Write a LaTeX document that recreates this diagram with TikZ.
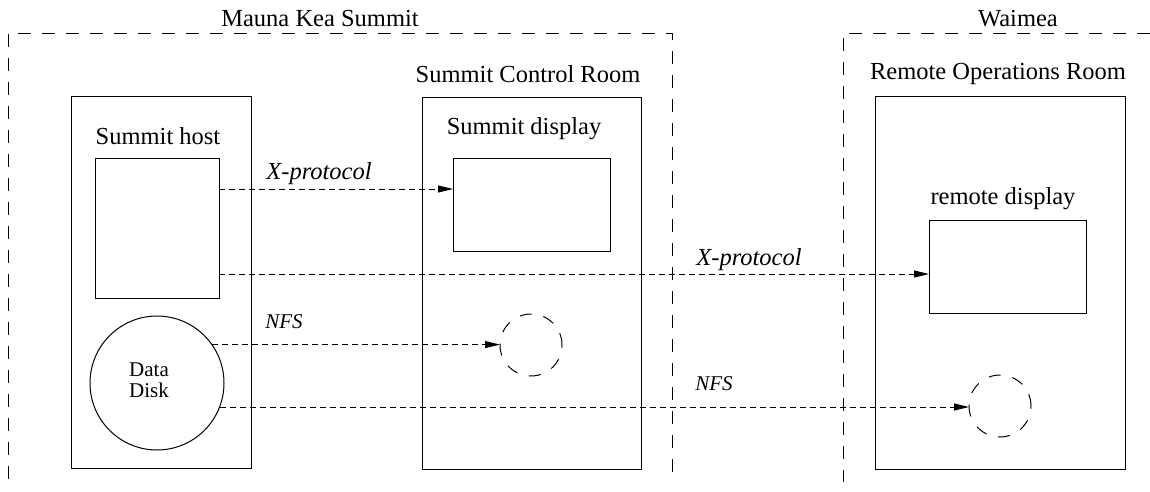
\documentclass[tikz,border=0pt]{standalone}
\usepackage{fontspec}
\setmainfont{Liberation Serif}
\usetikzlibrary{arrows.meta,calc}

\tikzset{
  big/.style={font=\fontsize{24.5}{28}\selectfont, inner sep=0pt},
  small/.style={font=\fontsize{21}{21}\selectfont, inner sep=0pt},
  proto/.style={font=\fontsize{24.5}{28}\selectfont\itshape, inner sep=0pt},
  protosmall/.style={font=\fontsize{21}{24}\selectfont\itshape, inner sep=0pt},
  box/.style={draw, line width=1pt, inner sep=0pt, outer sep=0pt},
  region/.style={draw, line width=1pt, dash pattern=on 13pt off 11pt},
  ghost/.style={draw, circle, line width=1pt, dash pattern=on 12pt off 12pt,
                minimum size=62pt, inner sep=0pt, outer sep=0pt},
  link/.style={draw, line width=1pt, dash pattern=on 6pt off 4pt,
               -{Triangle[length=15pt,width=7pt]}},
}

\begin{document}
\begin{tikzpicture}[x=1pt,y=-1pt]
\useasboundingbox (0,0) rectangle (1150,491);

% site regions
\node[big] (summitlbl) at (320,19) {Mauna Kea Summit};
\node[big] (waimealbl) at (1018,19) {Waimea};
\coordinate (mkbl) at (8,479);
\coordinate (mktl) at (8,33);
\coordinate (mktr) at (672,33);
\coordinate (mkbr) at (672,482);
\coordinate (wtr) at (1150,33);
\coordinate (wtl) at (843,33);
\coordinate (wbl) at (843,482);
\draw[region] (mkbl) -- (mktl) -- (mktr) -- (mkbr);
\draw[region] (wtr) -- (wtl) -- (wbl);

% summit host
\node[box, minimum width=180pt, minimum height=372pt] (host) at (161,282) {};
\node[big] (hostlbl) at (158,136) {Summit host};
\node[box, minimum width=124pt, minimum height=140pt] (screen) at (157,228) {};
\node[draw, circle, line width=1pt, minimum size=134pt, inner sep=0pt, outer sep=0pt] (disk) at (157,383) {};
\node[small, align=center] (disklbl) at (149,380) {Data\\Disk};

% summit control room
\node[big] (ctrllbl) at (528,74) {Summit Control Room};
\node[box, minimum width=219pt, minimum height=372pt] (ctrl) at (531.5,283) {};
\node[big] (displbl) at (524,129) {Summit display};
\node[box, minimum width=157pt, minimum height=93pt] (disp) at (531.5,204.5) {};
\node[ghost] (mnt1) at (531,345) {};

% remote operations room
\node[big] (remlbl) at (998,74) {Remote Operations Room};
\node[box, minimum width=250pt, minimum height=373pt] (rem) at (1000,282.5) {};
\node[big] (rdisplbl) at (1003,199) {remote display};
\node[box, minimum width=157pt, minimum height=93pt] (rdisp) at (1007.5,266.5) {};
\node[ghost] (mnt2) at (1000,406) {};

% connections
\draw[link] (screen.east |- 0,189) -- (disp.west |- 0,189);
\draw[link] (screen.east |- 0,274) -- (rdisp.west |- 0,274);
\draw[link] (disk.35.6) -- (mnt1.west |- disk.35.6);
\draw[link] (disk.-21) -- (mnt2.west |- disk.-21);

\node[proto] (xp1) at (319,174) {X-protocol};
\node[proto] (xp2) at (749,260) {X-protocol};
\node[protosmall] (nfs1) at (284,322) {NFS};
\node[protosmall] (nfs2) at (714,384) {NFS};
\end{tikzpicture}
\end{document}
